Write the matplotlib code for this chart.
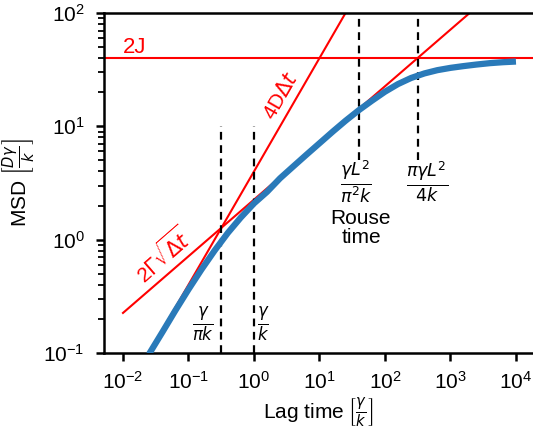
import numpy as np
import matplotlib
matplotlib.use("Agg")
import matplotlib.pyplot as plt

plt.rcParams['font.family'] = ['Liberation Sans', 'DejaVu Sans']
plt.rcParams['mathtext.fontset'] = 'dejavusans'

# blue curve (lag time, MSD)
lag = [0.025, 0.04, 0.063, 0.1, 0.158, 0.25, 0.4, 0.63, 1.0, 1.58, 2.5, 4, 6.3, 10,
       16, 25, 40, 63, 100, 158, 250, 400, 630, 1000, 1580, 2500, 4000, 6300, 10000]
msd = [0.098, 0.153, 0.237, 0.364, 0.546, 0.80, 1.15, 1.57, 2.09, 2.64, 3.48, 4.44,
       5.61, 7.09, 9.0, 11.2, 13.9, 16.8, 20.2, 23.6, 26.7, 29.3, 31.3, 32.8, 34.0,
       35.1, 36.1, 36.8, 37.3]

# asymptotes
lin_t = [0.01, 100]
lin_y = [0.04, 400]          # 4 D dt
sqrt_t = [0.01, 1e4]
sqrt_y = [0.2257, 225.7]     # 2 Gamma sqrt(dt)
plateau = 40                 # 2J

# characteristic times
t_short = [1 / np.pi, 1.0]
t_long = [40.5, 314]

fig = plt.figure(figsize=(5.33, 4.36), dpi=100)
ax = fig.add_axes([104 / 533, 83 / 436, 429 / 533, 340 / 436])

ax.axhline(plateau, color='red', lw=1.5)
ax.plot(lin_t, lin_y, color='red', lw=1.5)
ax.plot(sqrt_t, sqrt_y, color='red', lw=1.5)
ax.plot(lag, msd, color='#2a7ab9', lw=4.5, solid_capstyle='butt', zorder=3)

for t in t_short:
    ax.plot([t, t], [0.1, 10], color='black', ls=(0, (3.5, 2.5)), lw=1.6)
for t in t_long:
    ax.plot([t, t], [5, 100], color='black', ls=(0, (3.5, 2.5)), lw=1.6)

ax.set_xscale('log')
ax.set_yscale('log')
ax.set_xlim(10 ** -2.29, 10 ** 4.26)
ax.set_ylim(0.1, 100)

ax.spines['right'].set_visible(False)
for s in ['left', 'bottom', 'top']:
    ax.spines[s].set_linewidth(1.8)
ax.tick_params(which='major', direction='out', length=6, width=1.8, labelsize=15)
ax.tick_params(which='minor', direction='out', length=4, width=1.3)
ax.tick_params(axis='x', which='minor', length=0)
ax.tick_params(axis='x', which='major', pad=7)
ax.tick_params(axis='y', which='major', pad=8)
ax.set_xticks([1e-2, 1e-1, 1, 10, 100, 1e3, 1e4])

ax.set_xlabel(r'Lag time $\left[\frac{\gamma}{k}\right]$', fontsize=15, labelpad=2)
ax.set_ylabel(r'MSD $\left[\frac{D\gamma}{k}\right]$', fontsize=15, labelpad=4)

ax.text(0.01, 44, '2J', color='red', fontsize=16, ha='left', va='baseline')
ax.text(2.6, 18.5, r'4D$\Delta t$', color='red', fontsize=15, rotation=60,
        ha='center', va='center')
ax.text(0.04, 0.72, r'2$\Gamma\sqrt{\Delta t}$', color='red', fontsize=15, rotation=41,
        ha='center', va='center')

ax.text(0.166, 0.181, r'$\frac{\gamma}{\pi k}$', fontsize=17, ha='center', va='center')
ax.text(1.37, 0.181, r'$\frac{\gamma}{k}$', fontsize=17, ha='center', va='center')
ax.text(36, 3.22, r'$\frac{\gamma L^2}{\pi^2 k}$', fontsize=18, ha='center', va='center')
ax.text(440, 3.22, r'$\frac{\pi\gamma L^2}{4k}$', fontsize=18, ha='center', va='center')
ax.text(43, 1.27, 'Rouse\ntime', fontsize=15, ha='center', va='center', linespacing=1.0)

fig.savefig('out.png', dpi=100)
